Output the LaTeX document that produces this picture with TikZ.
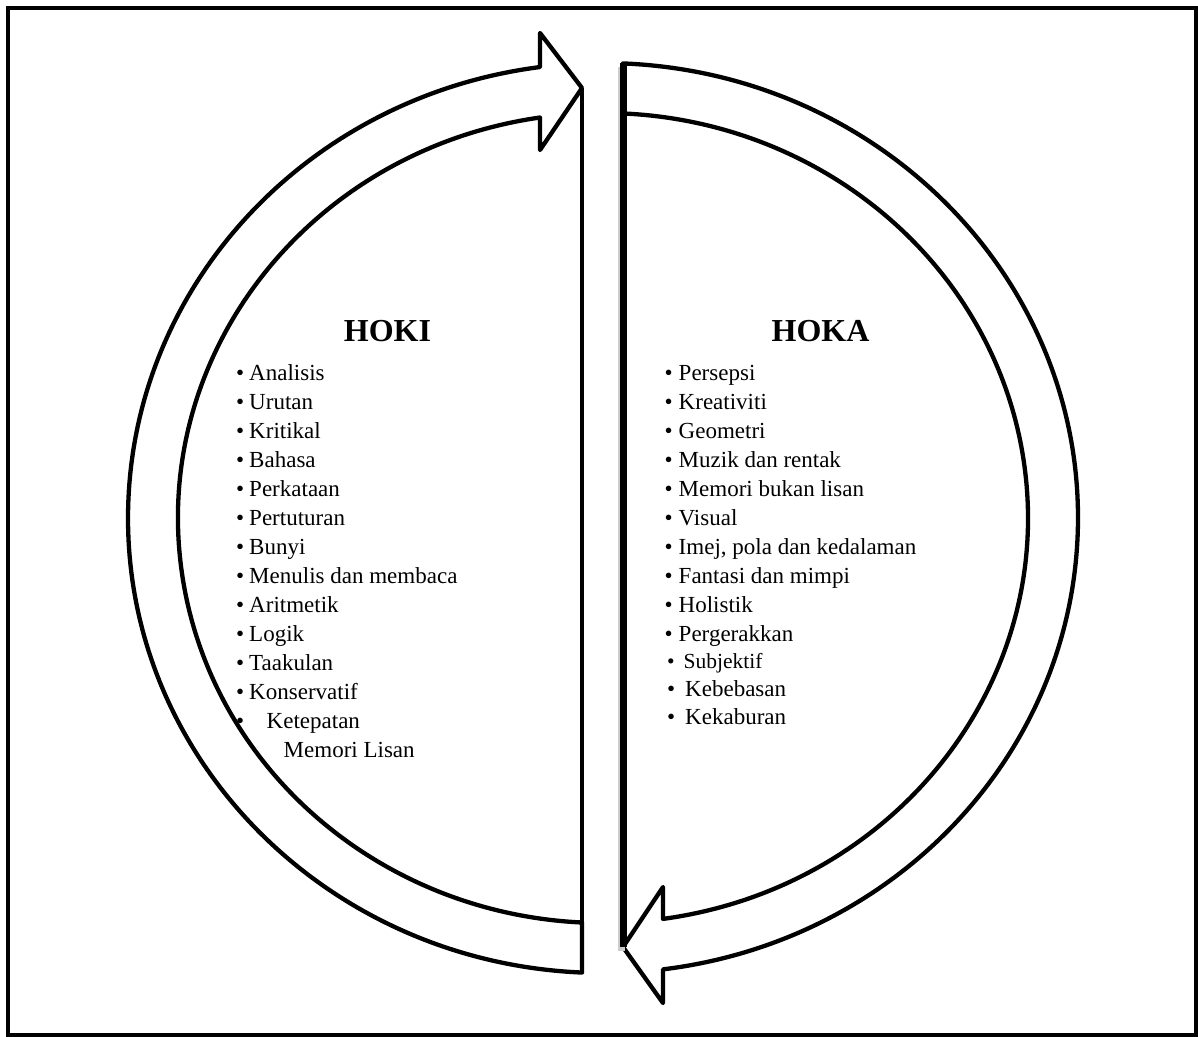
\documentclass[tikz,border=0pt]{standalone}
\usepackage{fontspec}
\setmainfont{Liberation Serif}
\tikzset{
  band/.style={draw, line width=4.3pt, line join=round},
  item/.style={anchor=base west, inner sep=0pt, font=\fontsize{23}{28}\selectfont},
  head/.style={anchor=base, inner sep=0pt, font=\fontsize{32}{38}\selectfont\bfseries},
}
\begin{document}
\begin{tikzpicture}[x=1pt, y=-1pt]
\useasboundingbox (0,0) rectangle (1198,1036);
\draw[line width=3.2pt] (8,8) rectangle (1196,1035);
\coordinate (c) at (603,518);
% left arrow
\draw[band] (c) ++(92.53:475 and 455) arc[start angle=92.53, end angle=262.38, x radius=475, y radius=455]
  -- (540,33) -- (582,88) -- (540,150) -- (540,117.5)
  arc[start angle=261.48, end angle=92.83, x radius=425, y radius=405] -- cycle;
\coordinate (ltip) at (582,88);
\coordinate (lend) at (582,972.6);
\draw[band] (ltip) -- (lend);
% right arrow
\draw[band] (c) ++(272.41:475 and 455) arc[start angle=272.41, end angle=442.74, x radius=475, y radius=455]
  -- (663,1003) -- (623,947) -- (663,887) -- (663,918.9)
  arc[start angle=441.88, end angle=272.70, x radius=425, y radius=405] -- cycle;
\coordinate (rtop) at (623,63);
\coordinate (rtip) at (623,947);
\draw[line width=7pt, gray!40] ([shift={(-2,4)}]rtop) -- ([shift={(-2,4)}]rtip);
\draw[line width=7pt] (rtop) -- (rtip);
% headings
\node[head] (hoki) at (387.5,341.7) {HOKI};
\node[head] (hoka) at (820.5,341.7) {HOKA};
% left list
\foreach \txt [count=\i from 0] in {Analisis, Urutan, Kritikal, Bahasa, Perkataan, Pertuturan, Bunyi,
    Menulis dan membaca, Aritmetik, Logik, Taakulan, Konservatif}
  \node[item] (l\i) at (236,380.5+29*\i) {•\hspace{5pt}\txt};
\node[item] (lket) at (236,728.5) {•\hspace{22.5pt}Ketepatan};
\node[item] (lmem) at (283.5,757.5) {Memori Lisan};
% right list
\foreach \txt [count=\i from 0] in {Persepsi, Kreativiti, Geometri, Muzik dan rentak, Memori bukan lisan,
    Visual, {Imej, pola dan kedalaman}, Fantasi dan mimpi, Holistik, Pergerakkan}
  \node[item] (r\i) at (664.5,380.5+29*\i) {•\hspace{6pt}\txt};
\node[item, font=\fontsize{21.5}{26}\selectfont] (rsub) at (667,668.5) {•\hspace{9pt}Subjektif};
\node[item] (rbeb) at (667,696.5) {•\hspace{10pt}Kebebasan};
\node[item] (rkab) at (667,724.5) {•\hspace{10pt}Kekaburan};
\end{tikzpicture}
\end{document}
